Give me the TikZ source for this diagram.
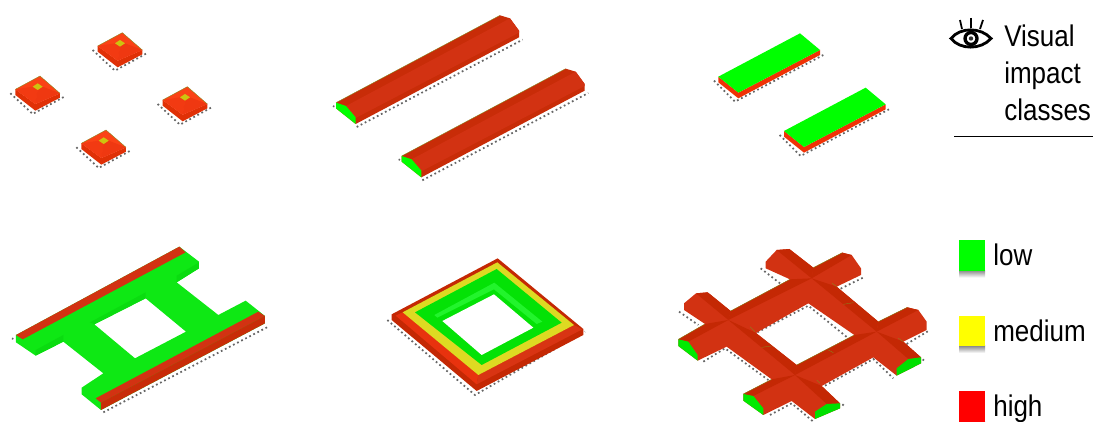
\documentclass[tikz,border=0pt]{standalone}
\usepackage{fontspec}
\setmainfont{Liberation Sans}
\usetikzlibrary{positioning}
\definecolor{roofred}{RGB}{210,50,18}
\definecolor{ridgered}{RGB}{196,40,4}
\definecolor{sidered}{RGB}{200,44,8}
\definecolor{flatred}{RGB}{240,50,5}
\definecolor{tilered}{RGB}{250,66,22}
\definecolor{tiledark}{RGB}{232,50,14}
\definecolor{tilemid}{RGB}{242,58,18}
\definecolor{olive}{RGB}{205,195,15}
\definecolor{limegreen}{RGB}{0,255,0}
\definecolor{wallgreen}{RGB}{14,232,20}
\definecolor{shadegreen}{RGB}{10,220,16}
\definecolor{ringgreen}{RGB}{4,226,6}
\definecolor{glowgreen}{RGB}{34,244,44}
\definecolor{ringyellow}{RGB}{222,218,34}
\definecolor{swatchyellow}{RGB}{255,255,0}
\definecolor{swatchred}{RGB}{255,0,0}
\definecolor{edgeolive}{RGB}{130,140,30}
\begin{document}
\begin{tikzpicture}[x=0.02cm,y=-0.02cm,
  classtext/.style={anchor=base west,inner sep=0pt,xscale=0.87,font=\fontsize{17}{20.8}\selectfont},
  swatch/.style={minimum width=0.52cm,minimum height=0.62cm,inner sep=0pt},
  dotrow/.style={line width=1pt,dash pattern=on 1pt off 1.6pt,black!60},
  rim/.style={line width=0.2pt,edgeolive}]
\useasboundingbox (0,0) rectangle (1093,422);
% four houses
\begin{scope}[shift={(0,20)},scale=1/3]
\foreach \hx/\hy in {367/38,120/168,562/200,318/330} {
  \begin{scope}[shift={(\hx,\hy)}]
  \draw[dotrow] (-89,52)--(-22,114)--(73,62);
  \fill[sidered!40!flatred] (-74,40)--(-74,57)--(-14,104)--(60,65)--(60,52)--(-14,84)--cycle;
  \fill[tilered] (0,0)--(-74,40)--(-14,84)--(60,52)--cycle;
  \fill[tilemid] (-22,32)--(-7,42)--(-14,84)--(-74,40)--cycle;
  \fill[tiledark!60!tilered] (-7,42)--(8,32)--(60,52)--(-14,84)--cycle;
  \fill[olive] (-7,22)--(8,32)--(-7,42)--(-22,32)--cycle;
  \draw[rim] (-74,40)--(0,0)--(60,52);
  \end{scope}
}
\end{scope}
% two ridge roofs
\begin{scope}[shift={(320,0)},scale=1/3]
\foreach \bx/\by in {0/0,197/160} {
  \begin{scope}[shift={(\bx,\by)}]
  \draw[dotrow] (110,381)--(608,119);
  \draw[dotrow] (39,318)--(43,320);
  \fill[sidered] (48,308)--(540,46)--(570,55)--(597,92)--(597,112)--(107,372)--(48,325)--cycle;
  \fill[roofred] (78,318)--(570,55)--(597,92)--(597,98)--(107,354)--cycle;
  \fill[limegreen] (48,308)--(78,318)--(107,352)--(107,372)--(48,325)--cycle;
  \draw[rim] (48,308)--(540,46);
  \end{scope}
}
\end{scope}
% two flat slabs
\begin{scope}[shift={(700,20)},scale=1/3]
\foreach \sx/\sy in {0/0,197/163} {
  \begin{scope}[shift={(\sx,\sy)}]
  \draw[dotrow] (42,182)--(105,245)--(370,105);
  \fill[flatred] (55,170)--(115,218)--(360,90)--(360,105)--(115,235)--(55,187)--cycle;
  \fill[limegreen] (55,170)--(300,40)--(360,90)--(115,218)--cycle;
  \end{scope}
}
\end{scope}
% H block
\begin{scope}[shift={(0,235)},scale=1/3]
\draw[dotrow] (310,532)--(805,275);
\draw[dotrow] (36,310)--(40,312);
\fill[wallgreen,even odd rule] (48,300)--(538,35)--(597,80)--(597,100)--(530,142)--(655,240)--(737,197)--(795,243)--(795,265)--(303,525)--(245,478)--(245,458)--(310,415)--(190,320)--(107,362)--(48,322)--cycle
  (283,268)--(437,190)--(558,290)--(405,370)--cycle;
\fill[shadegreen] (270,262)--(437,172)--(437,190)--(283,268)--cycle;
\fill[shadegreen] (107,345)--(190,300)--(190,320)--(107,362)--cycle;
\fill[shadegreen] (530,122)--(597,82)--(597,100)--(530,142)--cycle;
\fill[roofred] (48,300)--(538,35)--(557,52)--(68,313)--cycle;
\fill[roofred] (287,490)--(775,230)--(795,243)--(303,503)--cycle;
\fill[sidered] (303,503)--(795,243)--(795,265)--(303,525)--cycle;
\end{scope}
% square ring
\begin{scope}[shift={(380,250)},scale=1/3]
\draw[dotrow] (22,210)--(285,435)--(615,245);
\fill[ridgered] (35,193)--(353,25)--(610,237)--(610,255)--(290,423)--(35,210)--cycle;
\fill[tiledark] (47,197)--(68,187)--(295,375)--(290,403)--cycle;
\fill[roofred!85!tilered] (295,375)--(582,225)--(607,238)--(290,403)--cycle;
\fill[ringyellow] (68,187)--(352,37)--(582,225)--(295,375)--cycle;
\fill[ringgreen] (105,187)--(350,57)--(545,218)--(305,345)--cycle;
\fill[glowgreen] (163,195)--(343,98)--(487,215)--(470,222)--(342,118)--(172,203)--cycle;
\fill[white] (187,213)--(342,133)--(460,233)--(305,315)--cycle;
\end{scope}
% cross of four roofs
\begin{scope}[shift={(670,240)},scale=1/3]
\coordinate (c1) at (175,240); \coordinate (w1) at (105,252); \coordinate (n1) at (182,213); \coordinate (e1) at (258,279); \coordinate (s1) at (170,320);
\coordinate (c2) at (375,405); \coordinate (w2) at (305,418); \coordinate (n2) at (380,375); \coordinate (e2) at (455,438); \coordinate (s2) at (365,483);
\coordinate (c3) at (425,115); \coordinate (w3) at (360,118); \coordinate (n3) at (430,83); \coordinate (e3) at (500,140); \coordinate (s3) at (415,190);
\coordinate (c4) at (620,275); \coordinate (w4) at (553,285); \coordinate (n4) at (625,245); \coordinate (e4) at (700,305); \coordinate (s4) at (610,352);
\draw[dotrow] (272,85)--(330,130);
\draw[dotrow] (512,146)--(585,110);
\draw[dotrow] (27,215)--(85,255);
\draw[dotrow] (100,365)--(165,325)--(295,420);
\draw[dotrow] (262,277)--(415,197)--(535,295);
\draw[dotrow] (465,437)--(610,357)--(670,415);
\draw[dotrow] (710,312)--(780,270);
\draw[dotrow] (300,525)--(365,490)--(430,545);
\draw[dotrow] (758,358)--(765,365);
\draw[dotrow] (517,493)--(522,497);
\fill[roofred,even odd rule] (287,65)--(320,30)--(358,27)--(n3)--(517,38)--(545,45)--(573,85)--(573,105)--(e3)--(n4)--(712,202)--(745,210)--(770,245)--(770,270)--(e4)--(753,352)--(753,370)--(680,407)--(s4)--(e2)--(510,490)--(510,505)--(435,537)--(s2)--(280,525)--(220,482)--(220,462)--(w2)--(s1)--(83,362)--(25,318)--(25,298)--(w1)--(42,210)--(42,190)--(78,160)--(113,157)--(n1)--(w3)--(287,85)--cycle
  (e1)--(s3)--(w4)--(n2)--cycle;
% dark strips of the bars running south-east
\fill[ridgered] (78,160)--(113,157)--(n1)--(c1)--cycle;
\fill[ridgered] (c1)--(e1)--(n2)--(c2)--cycle;
\fill[ridgered] (c2)--(e2)--(510,490)--(470,492)--cycle;
\fill[ridgered] (320,30)--(358,27)--(n3)--(c3)--cycle;
\fill[ridgered] (c3)--(e3)--(n4)--(c4)--cycle;
\fill[ridgered] (c4)--(e4)--(753,352)--(715,357)--cycle;
% dark strips of the bars running north-east
\fill[ridgered] (25,298)--(55,305)--(c1)--(w1)--cycle;
\fill[ridgered] (c1)--(n1)--(w3)--(c3)--cycle;
\fill[ridgered] (c3)--(n3)--(517,38)--(545,45)--cycle;
\fill[ridgered] (220,462)--(250,468)--(c2)--(w2)--cycle;
\fill[ridgered] (c2)--(n2)--(w4)--(c4)--cycle;
\fill[ridgered] (c4)--(n4)--(712,202)--(745,210)--cycle;
\fill[limegreen!92!black] (25,298)--(55,305)--(83,345)--(83,362)--(25,318)--cycle;
\fill[limegreen!92!black] (220,462)--(250,468)--(280,505)--(280,525)--(220,482)--cycle;
\fill[limegreen!88!black] (680,385)--(715,357)--(753,352)--(753,370)--(680,407)--cycle;
\fill[limegreen!88!black] (435,515)--(470,492)--(510,490)--(510,505)--(435,537)--cycle;
\draw[rim] (240,260)--(255,275) (275,322)--(305,318) (235,360)--(240,365);
\draw[rim] (487,130)--(500,140) (520,193)--(550,188) (685,295)--(700,305);
\draw[rim] (440,420)--(450,430) (475,330)--(490,338);
\draw[rim] (w1)--(25,298) (n1)--(w3) (n3)--(517,38) (w2)--(220,462) (n2)--(w4) (n4)--(712,202);
\end{scope}
% eye and heading
\draw[line width=1.6pt] (951,38.5) .. controls (960,27) and (981,27) .. (991,38.5) .. controls (981,50) and (960,50) .. (951,38.5)--cycle;
\draw[line width=1.9pt] (971,38.5) circle[radius=6];
\fill[black!80] (971,38.5) circle[radius=2.2];
\draw[line width=1pt] (960,20)--(962,29);
\draw[line width=1pt] (971,18)--(971,28);
\draw[line width=1pt] (983,20)--(980,29);
\node[anchor=north west,inner sep=0pt,align=left,xscale=0.87,font=\fontsize{17}{20.8}\selectfont] (heading) at (1004,25) {Visual\\impact\\classes};
\draw[line width=0.9pt] (954,136.5)--(1093,136.5);
% legend
\foreach \sy/\scol/\sname in {255.5/limegreen/low,331/swatchyellow/medium,406.5/swatchred/high} {
  \fill[top color=black!45,bottom color=white] (959,\sy+15)rectangle(985,\sy+22);
  \node[swatch,fill=\scol] (\sname) at (972,\sy) {};
  \node[classtext] (\sname text) at (993,\sy+10.5) {\sname};
}
\end{tikzpicture}
\end{document}
